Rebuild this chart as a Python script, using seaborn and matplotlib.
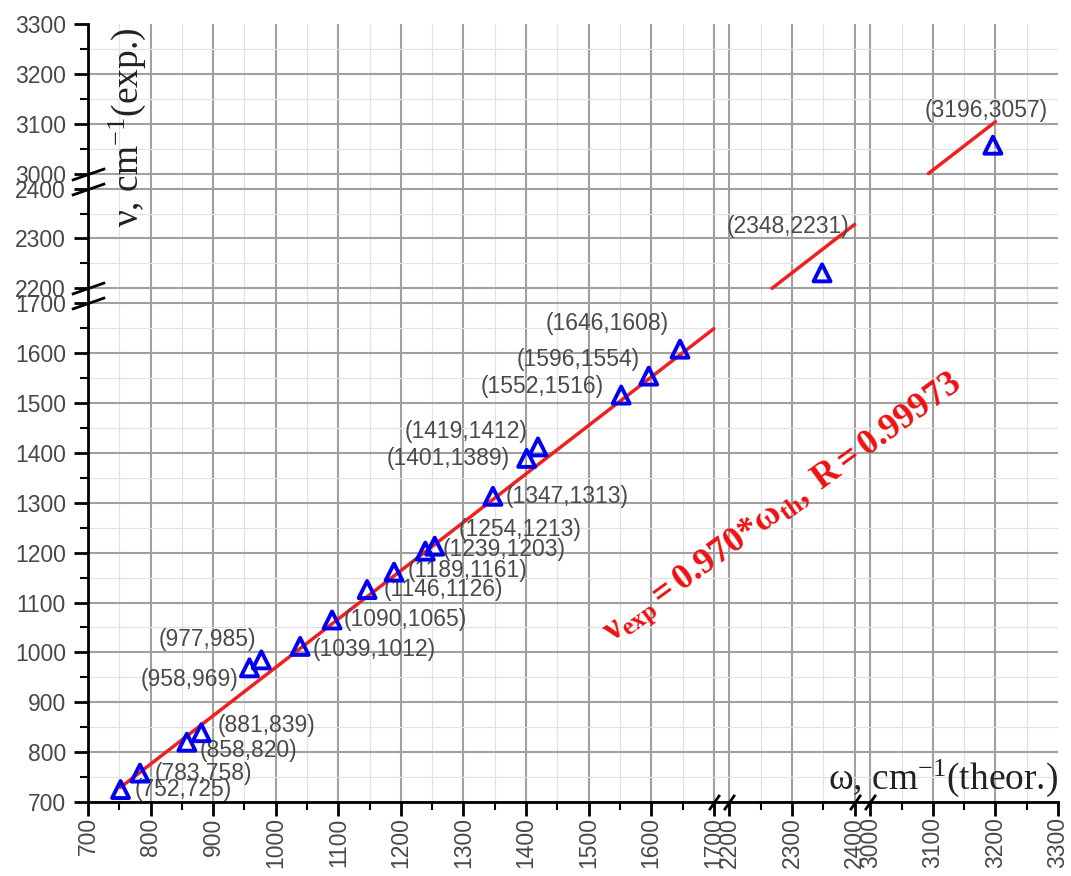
import matplotlib
matplotlib.use('Agg')
import matplotlib.pyplot as plt
import numpy as np
import seaborn as sns
from matplotlib.ticker import FixedLocator

# measured (theoretical) vs experimental frequencies, cm-1
omega_th = [752, 783, 858, 881, 958, 977, 1039, 1090, 1146, 1189,
            1239, 1254, 1347, 1401, 1419, 1552, 1596, 1646, 2348, 3196]
nu_exp = [725, 758, 820, 839, 969, 985, 1012, 1065, 1126, 1161,
          1203, 1213, 1313, 1389, 1412, 1516, 1554, 1608, 2231, 3057]

# linear fit nu = k * omega, drawn over three pieces
fit_slope = 0.970
fit_r = 0.99973
fit_spans = [(752, 1700), (2268, 2400), (3093, 3200)]

# broken axis segments
x_segments = [(700, 1700), (2200, 2400), (3000, 3300)]
y_segments = [(700, 1700), (2200, 2400), (3000, 3300)]

# label placement (pixels offset, alignment)
label_offsets = [(14, 0, 'left'), (15, 0, 'left'), (13, -8, 'left'), (16, 7, 'left'),
                 (-11, -12, 'right'), (-5, 20, 'right'), (12, -3, 'left'), (12, 0, 'left'),
                 (17, 0, 'left'), (14, 2, 'left'), (17, 2, 'left'), (24, 17, 'left'),
                 (13, 0, 'left'), (-17, 0, 'right'), (-10, 15, 'right'), (-17, 9, 'right'),
                 (-9, 17, 'right'), (-11, 26, 'right'), (27, 46, 'right'), (55, 35, 'right')]


def broken_scale(segments, gap):
    """piecewise linear map that squeezes the gaps between segments"""
    src, dst = [segments[0][0] - 1e5], [-1e5]
    pos = 0.0
    for i, (a, b) in enumerate(segments):
        if i > 0:
            pos += gap
        src += [a, b]
        dst += [pos, pos + (b - a)]
        pos += b - a
    src.append(segments[-1][1] + 1e5)
    dst.append(pos + 1e5)
    src, dst = np.array(src, float), np.array(dst, float)
    return (lambda v: np.interp(v, src, dst)), (lambda v: np.interp(v, dst, src))


def seg_ticks(segments, step, offset=0):
    ticks = []
    for a, b in segments:
        ticks += list(range(a + offset, b + 1 - offset, step))
    return ticks


sns.set_theme(style='white')
plt.rcParams['font.family'] = ['Liberation Sans', 'DejaVu Sans']
plt.rcParams['mathtext.fontset'] = 'custom'
plt.rcParams['mathtext.rm'] = 'Liberation Serif'
plt.rcParams['mathtext.it'] = 'Liberation Serif:italic'
plt.rcParams['mathtext.bf'] = 'Liberation Serif:bold'

fig = plt.figure(figsize=(10.71, 8.76), dpi=100)
ax = fig.add_axes([88 / 1071, 1 - 802 / 876, 970 / 1071, 778 / 876])

ax.set_xscale('function', functions=broken_scale(x_segments, 25))
ax.set_yscale('function', functions=broken_scale(y_segments, 30))
ax.set_xlim(700, 3300)
ax.set_ylim(700, 3300)

ax.xaxis.set_major_locator(FixedLocator(seg_ticks(x_segments, 100)))
ax.xaxis.set_minor_locator(FixedLocator(seg_ticks(x_segments, 100, 50)))
ax.yaxis.set_major_locator(FixedLocator(seg_ticks(y_segments, 100)))
ax.yaxis.set_minor_locator(FixedLocator(seg_ticks(y_segments, 100, 50)))

ax.grid(which='minor', color='#e2e2e2', lw=0.9)
ax.grid(which='major', color='#a0a0a0', lw=1.5)
ax.xaxis.get_gridlines()[-1].set_visible(False)
ax.yaxis.get_gridlines()[-1].set_visible(False)
ax.set_axisbelow(True)

for side in ['top', 'right']:
    ax.spines[side].set_visible(False)
for side in ['left', 'bottom']:
    ax.spines[side].set_color('black')
    ax.spines[side].set_linewidth(2)

ax.tick_params(which='major', direction='out', length=10, width=2, color='black',
               bottom=True, left=True, labelcolor='#484848')
ax.tick_params(which='minor', direction='out', length=5.5, width=1.5, color='black',
               bottom=True, left=True)
ax.tick_params(axis='x', labelsize=16.5, labelrotation=90, pad=1)
ax.tick_params(axis='y', labelsize=16.5, pad=6)

# fit line pieces
for x0, x1 in fit_spans:
    xs = np.array([x0, x1])
    ax.plot(xs, fit_slope * xs, color='#f02020', lw=2.5, zorder=3)

sns.scatterplot(x=omega_th, y=nu_exp, marker='^', s=150, facecolor='none',
                edgecolor='#0000ee', linewidth=2.8, zorder=4, ax=ax)

for w, v, (dx, dy, ha) in zip(omega_th, nu_exp, label_offsets):
    ax.annotate(f'({w},{v})', (w, v), xytext=(dx, dy), textcoords='offset pixels',
                ha=ha, va='center', fontsize=16.5, color='#4a4a4a')

# break marks
xb = [x_segments[0][1], x_segments[1][0], x_segments[1][1], x_segments[2][0]]
yb = [y_segments[0][1], y_segments[1][0], y_segments[1][1], y_segments[2][0]]
ax.plot(xb, [0] * 4, transform=ax.get_xaxis_transform(), ls='none',
        marker=[(-0.7, -1), (0.7, 1)], ms=11, mew=2, color='black', clip_on=False, zorder=5)
ax.plot([0] * 4, yb, transform=ax.get_yaxis_transform(), ls='none',
        marker=[(-1, -0.35), (1, 0.35)], ms=24, mew=2, color='black', clip_on=False, zorder=5)

# axis titles inside the frame
ax.text(0.041, 0.995, r'$\mathrm{\nu}$, cm$^{\mathregular{-1}}$(exp.)', transform=ax.transAxes,
        rotation=90, ha='center', va='top', fontsize=27, family='Liberation Serif', color='#222222')
ax.text(1.0, 0.031, r'$\mathrm{\omega}$, cm$^{\mathregular{-1}}$(theor.)', transform=ax.transAxes,
        ha='right', va='center', fontsize=27, family='Liberation Serif', color='#222222')

eq = (r'$\mathbf{\nu_{exp} = 0.970{*}\omega_{th},\ R = %s}$' % fit_r)
ax.text(0.717, 0.376, eq, transform=ax.transAxes, rotation=36, rotation_mode='anchor',
        ha='center', va='center', fontsize=26, color='#ee1111')

fig.savefig('out.png', dpi=100)
